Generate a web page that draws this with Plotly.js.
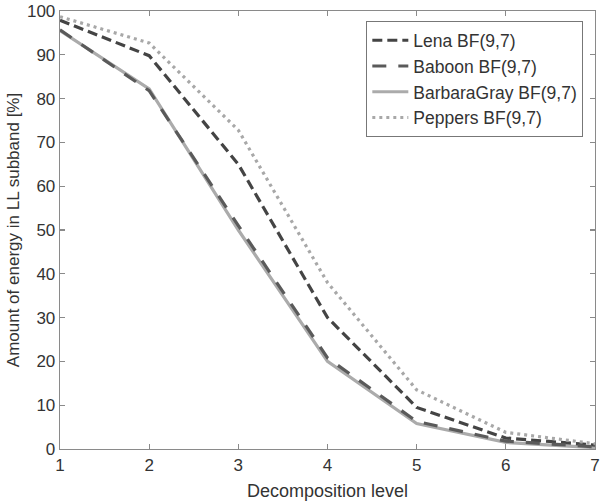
<!DOCTYPE html>
<html>
<head>
<meta charset="utf-8">
<script src="https://cdn.plot.ly/plotly-3.0.1.min.js"></script>
<style>html,body{margin:0;padding:0;background:#fff;}#chart{width:601px;height:503px;}</style>
</head>
<body>
<div id="chart"></div>
<script>
var levels = [1, 2, 3, 4, 5, 6, 7];
var lena = [97.9, 89.8, 65.0, 30.0, 9.5, 2.5, 0.9];
var baboon = [95.7, 81.8, 51.0, 20.8, 6.3, 1.8, 0.5];
var barbara = [95.5, 82.2, 50.0, 20.0, 5.8, 1.5, 0.3];
var peppers = [98.7, 92.7, 72.8, 38.0, 13.5, 3.8, 1.2];
var names = ['Lena BF(9,7)', 'Baboon BF(9,7)', 'BarbaraGray BF(9,7)', 'Peppers BF(9,7)'];
var yTicks = [0, 10, 20, 30, 40, 50, 60, 70, 80, 90, 100];

var FONT = 'Liberation Sans, Arial, Helvetica, sans-serif';

var traces = [
  {x: levels, y: barbara, name: names[2], legendrank: 3, mode: 'lines', line: {color: '#ababab', width: 3.2}},
  {x: levels, y: lena, name: names[0], legendrank: 1, mode: 'lines', line: {color: '#444444', width: 3.2, dash: '10px,5px'}},
  {x: levels, y: baboon, name: names[1], legendrank: 2, mode: 'lines', line: {color: '#5a5a5a', width: 3.2, dash: '14px,12px'}},
  {x: levels, y: peppers, name: names[3], legendrank: 4, mode: 'lines', line: {color: '#a8a8a8', width: 3.2, dash: '3px,4px'}}
];

var axisCommon = {
  showgrid: false, zeroline: false, showline: true, mirror: 'ticks',
  linecolor: '#8a8a8a', linewidth: 1.3, ticks: 'inside', ticklen: 5,
  tickcolor: '#8a8a8a', tickwidth: 1.3,
  tickfont: {family: FONT, size: 17, color: '#333'}
};

var layout = {
  width: 601, height: 503,
  margin: {l: 60, r: 6, t: 11, b: 54},
  paper_bgcolor: '#fff', plot_bgcolor: '#fff',
  showlegend: true,
  xaxis: Object.assign({}, axisCommon, {
    range: [1, 7], tickvals: levels, ticktext: levels.map(String),
    title: {text: 'Decomposition level', standoff: 10, font: {family: FONT, size: 18, color: '#333'}}
  }),
  yaxis: Object.assign({}, axisCommon, {
    range: [0, 100], tickvals: yTicks,
    title: {text: 'Amount of energy in LL subband [%]', standoff: 3, font: {family: FONT, size: 17, color: '#333'}}
  }),
  legend: {
    x: 0.572, y: 0.977, xanchor: 'left', yanchor: 'top',
    bgcolor: '#fff', bordercolor: '#777', borderwidth: 1.3,
    traceorder: 'normal',
    font: {family: FONT, size: 17.5, color: '#333'},
    itemwidth: 36
  }
};

Plotly.newPlot('chart', traces, layout, {displayModeBar: false, staticPlot: true});
</script>
</body>
</html>
